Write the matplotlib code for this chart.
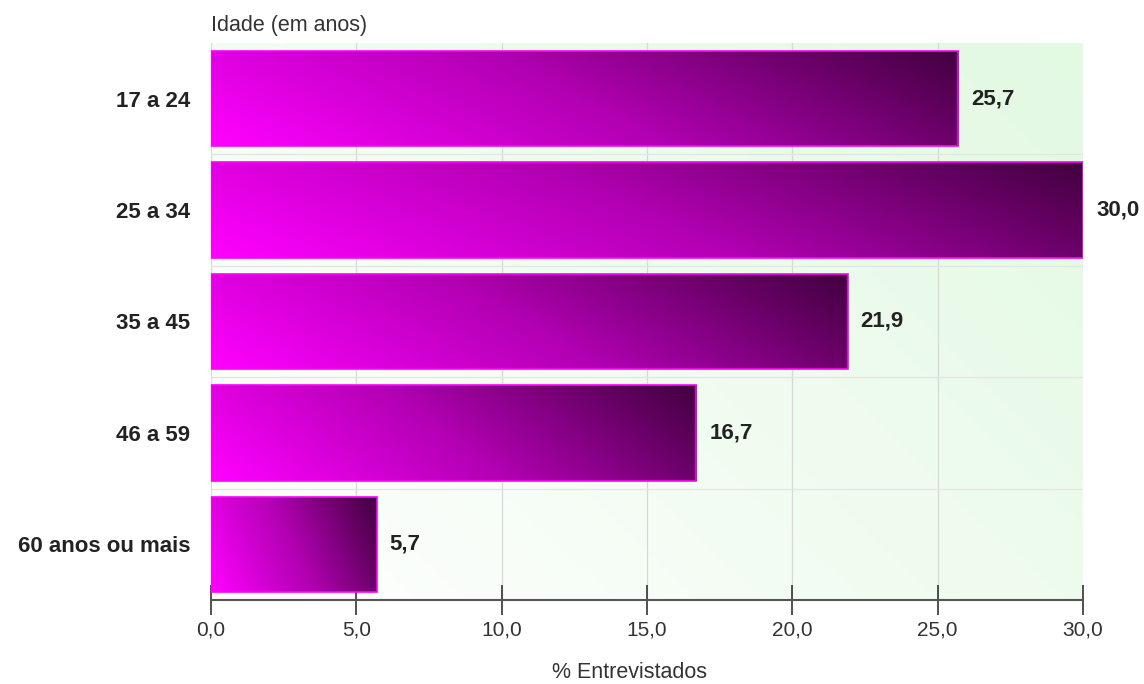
import numpy as np
import matplotlib.pyplot as plt
from matplotlib.colors import LinearSegmentedColormap

categories = ['17 a 24', '25 a 34', '35 a 45', '46 a 59', '60 anos ou mais']
values = [25.7, 30.0, 21.9, 16.7, 5.7]
x_ticks = [0, 5, 10, 15, 20, 25, 30]


def fmt(v: float) -> str:
    return f'{v:.1f}'.replace('.', ',')


def main():
    fig = plt.figure(figsize=(11.44, 6.84), dpi=100)
    ax = fig.add_axes([211 / 1144, 1 - 600 / 684, (1083 - 211) / 1144, (600 - 43) / 684])

    n = len(categories)
    ax.set_xlim(0, 30)
    ax.set_ylim(n - 0.5, -0.5)

    # background gradient: white bottom-left -> light green top-right
    bg_cmap = LinearSegmentedColormap.from_list('bg', ['#ffffff', '#e2f9e2'])
    gx, gy = np.meshgrid(np.linspace(0, 1, 200), np.linspace(0, 1, 200))
    ax.imshow(0.6 * gx + 0.4 * (1 - gy), cmap=bg_cmap, extent=(0, 30, n - 0.5, -0.5),
              origin='upper', aspect='auto', zorder=0, vmin=0, vmax=1)

    for xv in x_ticks[:-1]:
        ax.axvline(xv, color='#d8d8d8', lw=0.9, zorder=1)
    for i in range(n - 1):
        ax.axhline(i + 0.5, color='#e4e4e4', lw=0.9, zorder=1)

    bar_cmap = LinearSegmentedColormap.from_list('bar', ['#ff00ff', '#b000b0', '#42003f'])
    bars = ax.barh(range(n), values, height=0.855, facecolor='none',
                   edgecolor='#ff00ff', linewidth=1.2, zorder=3)
    for i, (b, v) in enumerate(zip(bars, values)):
        bx, by = np.meshgrid(np.linspace(0, 1, 256), np.linspace(0, 1, 64))
        # by = 0 is the top row of the bar -> darker at top right
        grad = 0.8 * bx + 0.2 * (1 - by)
        y0 = i - 0.855 / 2
        y1 = i + 0.855 / 2
        im = ax.imshow(grad, cmap=bar_cmap, extent=(0, v, y1, y0), origin='upper',
                       aspect='auto', zorder=2, vmin=0, vmax=1)
        im.set_clip_path(b)
        ax.text(v + 0.45, i, fmt(v), va='center', ha='left', fontsize=16,
                fontweight='bold', family='Liberation Sans', color='#222222', zorder=4)

    ax.set_yticks(range(n))
    ax.set_yticklabels(categories, fontsize=16, fontweight='bold',
                       family='Liberation Sans', color='#222222')
    ax.tick_params(axis='y', length=0, pad=15)

    ax.set_xticks(x_ticks)
    ax.set_xticklabels([fmt(t) for t in x_ticks], fontsize=15,
                       family='Liberation Sans', color='#333333')
    ax.tick_params(axis='x', direction='inout', length=22, width=1.2, color='#333333', pad=4)

    for side in ['top', 'right', 'left']:
        ax.spines[side].set_visible(False)
    ax.spines['bottom'].set_color('#555555')
    ax.spines['bottom'].set_linewidth(1.5)

    fig.text(630 / 1144, 1 - 672 / 684, '% Entrevistados', fontsize=15.5,
             family='Liberation Sans', color='#333333', ha='center', va='center')
    fig.text(211 / 1144, 1 - 26 / 684, 'Idade (em anos)', fontsize=15.5,
             family='Liberation Sans', color='#333333', ha='left', va='center')

    fig.savefig('out.png', dpi=100)


if __name__ == "__main__":
    main()
